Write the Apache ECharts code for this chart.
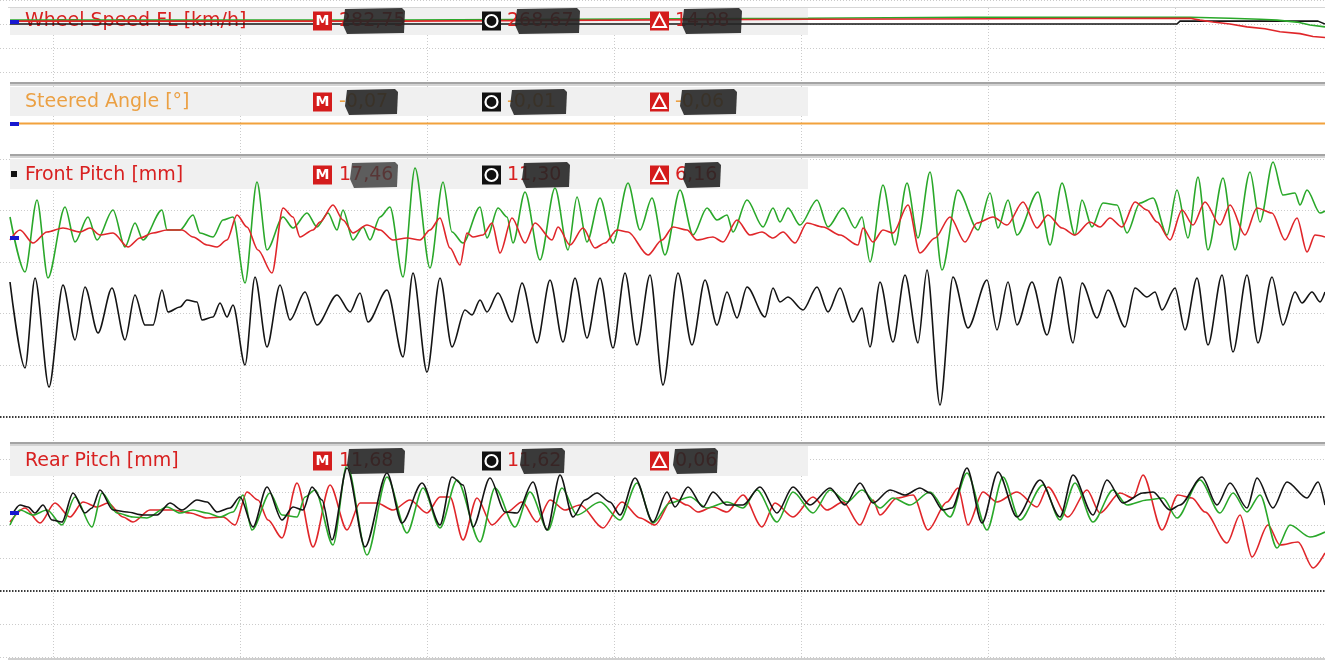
<!DOCTYPE html>
<html>
<head>
<meta charset="utf-8">
<script src="https://cdn.jsdelivr.net/npm/echarts@6.0.0/dist/echarts.min.js"></script>
<style>
  html, body { margin: 0; padding: 0; background: #ffffff; }
  #chart { width: 1325px; height: 662px; }
</style>
</head>
<body>
<div id="chart"></div>
<script>
// ---- channel data: [time s, value] ----
const wheelSpeedGreen = [[0.05,279],[2.0,279],[4.04,281],[4.84,282],[5.95,282],[6.15,281],[6.3,280],[6.385,279],[6.485,277],[6.55,274],[6.625,272]];
const wheelSpeedRed   = [[0.05,278],[2.0,278],[4.04,280],[5.95,281],[6.0,279],[6.065,277],[6.15,275],[6.235,272],[6.325,270],[6.4,267],[6.5,265],[6.565,262],[6.625,261]];
const wheelSpeedBlack = [[0.05,275],[5.885,275],[5.9,278],[6.59,278],[6.625,275]];

const steeredAngle = [[0.05,-0.07],[1.5,-0.07],[3.0,-0.07],[4.5,-0.07],[6.625,-0.07]];

const frontPitchGreen = [[0.05,4.37],[0.125,-0.97],[0.185,6.02],[0.24,-1.55],[0.325,5.34],[0.375,1.94],[0.44,4.37],[0.485,2.14],[0.565,5.05],[0.625,1.46],[0.675,3.79],[0.715,2.14],[0.81,5.05],[0.835,3.11],[0.9,3.11],[0.965,4.56],[1.0,2.82],[1.065,2.43],[1.115,4.08],[1.165,4.37],[1.225,-2.04],[1.285,7.77],[1.335,1.17],[1.415,4.37],[1.465,3.30],[1.535,4.76],[1.585,3.40],[1.64,4.76],[1.685,3.11],[1.715,5.05],[1.765,2.14],[1.815,3.40],[1.85,2.14],[1.9,4.37],[1.95,5.34],[2.015,-1.46],[2.075,9.13],[2.15,-0.58],[2.215,7.77],[2.26,2.91],[2.315,1.84],[2.4,5.34],[2.435,2.33],[2.49,5.24],[2.535,4.37],[2.565,1.84],[2.625,6.80],[2.7,0.19],[2.775,7.18],[2.84,1.17],[2.885,6.31],[2.935,1.94],[3.0,6.21],[3.065,1.84],[3.14,7.67],[3.2,3.11],[3.26,6.21],[3.325,0.68],[3.4,6.99],[3.465,2.62],[3.535,5.24],[3.585,4.08],[3.635,4.56],[3.665,2.91],[3.735,6.02],[3.815,3.40],[3.865,5.24],[3.9,3.88],[3.94,5.24],[4.0,3.59],[4.085,6.02],[4.14,3.40],[4.215,5.24],[4.275,3.30],[4.31,4.37],[4.35,0.0],[4.415,7.48],[4.475,1.65],[4.535,7.67],[4.59,2.33],[4.65,8.74],[4.71,-0.78],[4.79,6.99],[4.89,3.11],[4.95,6.70],[4.99,3.30],[5.04,6.02],[5.085,2.62],[5.19,6.80],[5.25,1.65],[5.31,7.67],[5.375,2.62],[5.41,6.02],[5.46,3.40],[5.515,5.73],[5.585,5.53],[5.635,2.82],[5.7,5.73],[5.765,6.21],[5.835,2.62],[5.885,6.99],[5.94,2.33],[5.99,8.25],[6.04,1.17],[6.115,8.16],[6.175,1.17],[6.25,8.74],[6.3,3.88],[6.365,9.71],[6.415,6.50],[6.475,6.70],[6.5,5.53],[6.535,6.99],[6.6,4.76],[6.625,4.95]];
const frontPitchRed = [[0.05,2.14],[0.1,3.11],[0.165,1.84],[0.235,2.91],[0.315,3.30],[0.4,2.91],[0.45,3.30],[0.5,2.62],[0.565,2.82],[0.64,1.46],[0.7,2.33],[0.765,2.82],[0.835,3.11],[0.91,3.11],[0.965,2.43],[1.035,1.65],[1.085,1.46],[1.135,2.14],[1.185,4.56],[1.235,3.40],[1.29,1.17],[1.36,-1.07],[1.415,5.24],[1.465,4.37],[1.5,2.43],[1.565,3.11],[1.6,3.88],[1.665,5.53],[1.715,4.08],[1.765,2.82],[1.835,3.59],[1.9,3.11],[1.965,2.14],[2.035,2.33],[2.1,2.14],[2.15,3.11],[2.2,4.27],[2.25,1.36],[2.3,-0.29],[2.335,2.82],[2.365,2.43],[2.415,2.62],[2.46,3.79],[2.5,0.87],[2.56,4.27],[2.625,1.84],[2.675,3.79],[2.76,2.14],[2.79,3.40],[2.85,1.65],[2.915,3.30],[2.975,1.36],[3.025,1.84],[3.085,3.11],[3.14,2.91],[3.24,0.68],[3.31,2.14],[3.365,3.40],[3.435,3.11],[3.485,2.14],[3.565,2.43],[3.615,1.94],[3.685,4.08],[3.75,2.62],[3.81,2.91],[3.865,2.33],[3.915,2.91],[3.975,1.84],[4.035,3.79],[4.115,3.40],[4.2,2.62],[4.29,1.65],[4.315,3.30],[4.365,1.94],[4.415,3.11],[4.465,2.82],[4.54,5.53],[4.6,0.87],[4.675,2.33],[4.75,4.37],[4.825,1.94],[4.885,3.79],[4.965,4.37],[5.035,3.59],[5.115,5.83],[5.185,3.30],[5.24,4.56],[5.31,3.30],[5.375,2.62],[5.45,3.88],[5.5,3.40],[5.55,4.27],[5.61,3.40],[5.675,5.83],[5.735,5.05],[5.785,3.88],[5.85,2.14],[5.91,5.05],[5.965,3.59],[6.025,5.83],[6.1,3.59],[6.15,5.53],[6.225,2.62],[6.285,5.24],[6.36,4.76],[6.425,2.14],[6.485,4.27],[6.535,0.97],[6.575,2.62],[6.625,2.43]];
const frontPitchBlack = [[0.05,-1.94],[0.125,-10.29],[0.175,-1.55],[0.245,-12.14],[0.315,-2.23],[0.375,-7.57],[0.425,-2.43],[0.49,-6.89],[0.56,-2.52],[0.625,-7.57],[0.675,-3.20],[0.725,-6.12],[0.765,-6.12],[0.81,-2.72],[0.84,-4.85],[0.9,-4.37],[0.935,-3.69],[0.985,-3.88],[1.01,-5.63],[1.065,-5.34],[1.1,-3.98],[1.135,-5.34],[1.165,-4.17],[1.225,-10.0],[1.275,-1.46],[1.335,-8.25],[1.4,-2.23],[1.45,-5.63],[1.525,-2.91],[1.585,-6.12],[1.685,-3.20],[1.75,-4.85],[1.8,-3.01],[1.84,-5.83],[1.935,-2.72],[2.015,-9.22],[2.065,-1.07],[2.135,-10.68],[2.2,-1.55],[2.26,-8.25],[2.325,-4.66],[2.36,-5.15],[2.4,-3.69],[2.435,-4.85],[2.49,-3.01],[2.56,-5.83],[2.61,-2.04],[2.685,-7.86],[2.75,-1.75],[2.815,-7.77],[2.875,-1.55],[2.935,-7.38],[3.0,-1.55],[3.065,-8.35],[3.125,-1.07],[3.185,-8.06],[3.25,-1.26],[3.315,-11.94],[3.39,-1.07],[3.46,-8.06],[3.525,-1.75],[3.585,-6.12],[3.635,-2.91],[3.685,-5.44],[3.735,-2.43],[3.825,-5.34],[3.865,-2.52],[3.9,-3.88],[3.94,-3.40],[4.015,-4.66],[4.085,-2.43],[4.14,-4.85],[4.2,-2.52],[4.265,-5.83],[4.31,-4.47],[4.35,-8.25],[4.4,-1.94],[4.465,-7.77],[4.525,-1.26],[4.59,-7.86],[4.635,-0.78],[4.7,-13.88],[4.765,-1.46],[4.84,-6.41],[4.935,-1.75],[4.985,-6.60],[5.04,-1.94],[5.085,-6.12],[5.16,-1.94],[5.235,-7.09],[5.3,-1.46],[5.365,-7.86],[5.41,-2.04],[5.485,-5.44],[5.54,-2.72],[5.625,-6.31],[5.675,-2.52],[5.735,-3.40],[5.775,-2.91],[5.81,-4.66],[5.875,-2.52],[5.925,-6.60],[5.985,-1.55],[6.04,-8.06],[6.11,-1.26],[6.165,-8.74],[6.235,-1.26],[6.29,-7.86],[6.36,-1.46],[6.415,-6.12],[6.475,-2.91],[6.51,-3.98],[6.56,-2.91],[6.6,-3.88],[6.625,-2.91]];

const rearPitchGreen = [[0.05,0.0],[0.1,2.27],[0.165,1.52],[0.235,2.27],[0.31,0.0],[0.375,4.24],[0.46,-0.30],[0.51,4.85],[0.585,1.82],[0.665,1.21],[0.735,1.06],[0.835,2.73],[0.9,1.82],[0.965,2.27],[1.035,1.82],[1.1,1.21],[1.165,1.97],[1.215,4.55],[1.26,-0.76],[1.35,4.85],[1.41,1.52],[1.485,1.21],[1.525,4.24],[1.575,5.30],[1.665,-3.03],[1.735,9.09],[1.835,-4.55],[1.935,7.27],[2.035,-1.21],[2.115,5.61],[2.2,-0.45],[2.285,6.82],[2.4,-2.58],[2.475,5.61],[2.575,-0.30],[2.65,5.0],[2.74,-0.76],[2.81,5.61],[2.885,1.52],[3.0,3.48],[3.1,0.76],[3.185,6.36],[3.265,0.30],[3.35,3.33],[3.45,4.24],[3.535,2.58],[3.635,3.48],[3.715,2.58],[3.785,5.30],[3.885,0.45],[3.965,5.0],[4.065,1.82],[4.15,5.30],[4.235,3.48],[4.31,5.30],[4.4,2.58],[4.465,4.09],[4.55,3.03],[4.65,5.0],[4.75,1.21],[4.835,7.88],[4.935,-0.76],[5.015,7.27],[5.1,0.76],[5.215,6.06],[5.3,0.76],[5.375,6.36],[5.465,0.45],[5.565,5.30],[5.635,3.03],[5.735,3.79],[5.815,4.09],[5.885,1.06],[6.0,6.82],[6.1,1.82],[6.165,4.85],[6.235,1.97],[6.3,4.55],[6.385,-3.48],[6.45,0.0],[6.55,-1.82],[6.625,-1.06]];
const rearPitchRed = [[0.05,0.45],[0.125,2.58],[0.2,0.30],[0.275,3.33],[0.35,1.21],[0.415,3.48],[0.485,2.73],[0.54,3.33],[0.615,1.21],[0.665,0.45],[0.75,2.27],[0.865,2.27],[0.95,1.82],[1.035,1.06],[1.115,1.21],[1.175,0.0],[1.235,5.0],[1.29,3.79],[1.34,0.76],[1.41,-1.97],[1.485,6.36],[1.565,-3.33],[1.65,6.06],[1.735,-0.76],[1.8,3.33],[1.885,3.33],[1.965,2.27],[2.05,3.79],[2.135,1.82],[2.2,4.24],[2.25,4.24],[2.315,-2.27],[2.385,4.09],[2.46,0.0],[2.535,1.97],[2.61,3.48],[2.685,0.45],[2.75,3.79],[2.825,2.27],[2.9,3.03],[3.015,-0.45],[3.11,3.48],[3.2,1.06],[3.275,0.0],[3.365,4.09],[3.435,3.03],[3.49,1.97],[3.565,2.73],[3.635,1.97],[3.715,4.55],[3.81,-0.30],[3.875,3.33],[3.965,1.21],[4.065,4.24],[4.135,2.27],[4.215,3.48],[4.3,0.0],[4.365,3.79],[4.4,1.52],[4.485,4.09],[4.565,4.55],[4.64,-0.76],[4.735,3.48],[4.79,5.61],[4.84,0.0],[4.915,5.0],[4.985,3.48],[5.085,5.0],[5.185,2.73],[5.24,5.76],[5.34,1.21],[5.435,5.30],[5.5,1.82],[5.6,4.85],[5.665,4.09],[5.715,7.58],[5.81,-0.76],[5.89,4.55],[5.96,4.09],[6.025,1.97],[6.135,-2.73],[6.2,1.52],[6.26,-4.85],[6.34,0.0],[6.4,-3.03],[6.49,-2.58],[6.565,-6.52],[6.625,-4.24]];
const rearPitchBlack = [[0.06,1.52],[0.1,3.03],[0.14,2.73],[0.175,1.82],[0.215,3.03],[0.26,0.76],[0.31,0.45],[0.365,4.85],[0.425,1.82],[0.46,2.58],[0.5,5.30],[0.565,2.27],[0.635,1.97],[0.715,1.52],[0.785,1.52],[0.85,3.33],[0.91,2.27],[0.985,3.79],[1.035,3.48],[1.085,1.97],[1.15,2.58],[1.2,4.24],[1.265,-0.30],[1.335,5.76],[1.41,0.76],[1.465,2.73],[1.515,2.27],[1.56,5.76],[1.61,3.79],[1.66,-2.27],[1.735,8.64],[1.825,-3.33],[1.935,7.88],[2.01,0.30],[2.11,6.36],[2.2,0.0],[2.26,7.27],[2.315,6.06],[2.365,-0.30],[2.45,7.12],[2.525,1.97],[2.585,1.82],[2.665,6.52],[2.735,-0.76],[2.8,7.58],[2.865,1.21],[2.925,3.79],[2.985,4.85],[3.05,3.48],[3.1,1.52],[3.175,7.12],[3.265,0.45],[3.335,5.0],[3.375,2.73],[3.44,5.76],[3.515,2.73],[3.565,5.0],[3.635,3.03],[3.715,3.03],[3.8,5.76],[3.885,1.82],[3.965,5.76],[4.05,3.03],[4.15,5.61],[4.225,3.03],[4.3,6.36],[4.365,3.33],[4.45,5.30],[4.525,4.55],[4.6,5.61],[4.65,4.85],[4.715,2.27],[4.76,2.58],[4.835,8.64],[4.91,0.30],[4.99,8.03],[5.085,1.21],[5.2,6.82],[5.3,1.21],[5.365,7.58],[5.465,1.52],[5.535,6.82],[5.615,3.33],[5.715,4.85],[5.765,5.0],[5.85,2.27],[5.9,3.03],[6.01,7.27],[6.085,3.03],[6.15,6.36],[6.235,2.58],[6.285,7.12],[6.365,2.58],[6.435,6.52],[6.535,4.09],[6.59,6.52],[6.625,3.03]];

// ---- header readouts (cursor M, cursor O, difference) ----
const channelNames = ['Wheel Speed FL [km/h]', 'Steered Angle [°]', 'Front Pitch [mm]', 'Rear Pitch [mm]'];
const readoutM     = ['282,75', '-0,07', '17,46', '11,68'];
const readoutO     = ['268,67', '-0,01', '11,30', '11,62'];
const readoutDelta = ['14,08', '-0,06', '6,16', '0,06'];

// ---- layout & style ----
const FONT = '19px "DejaVu Sans", Verdana, sans-serif';
const RED = '#e0262a', GREEN = '#2aa82a', BLACK = '#141414', ORANGE = '#f2a23c', BLUE = '#1818d0';
const labelColors = ['#d82020', '#eba043', '#d82020', '#d82020'];
const headerBands = [ {top: 8, h: 27}, {top: 87, h: 29}, {top: 159, h: 30}, {top: 446, h: 30} ];
const headerMid = [21, 102, 175, 461];
const boxX = {M: 313, O: 482, D: 650};
const valueX = {M: 339, O: 507, D: 675};
const masks = [
  [[343, 405], [515, 580], [682, 742]],
  [[345, 398], [510, 567], [680, 737]],
  [[350, 398], [522, 570], [683, 721]],
  [[347, 405], [520, 565], [673, 718]]
];
const axisMarks = [ {y: 20}, {y: 122}, {y: 236}, {y: 511} ];
const dividers = [82, 154, 442];

const grid = { color: '#cbcbcb', type: [1, 2], width: 1 };

const graphics = [];
// outer frame lines
graphics.push({ type: 'rect', shape: {x: 8, y: 7, width: 1317, height: 1}, style: {fill: '#d6d6d6'}, z: 1 });
graphics.push({ type: 'rect', shape: {x: 8, y: 658, width: 1317, height: 2}, style: {fill: '#cfcfcf'}, z: 1 });
dividers.forEach(function (y) {
  graphics.push({ type: 'rect', shape: {x: 10, y: y, width: 1315, height: 2}, style: {fill: '#a4a4a4'}, z: 1 });
  graphics.push({ type: 'rect', shape: {x: 10, y: y + 2, width: 1315, height: 2}, style: {fill: '#d4d4d4'}, z: 1 });
});

headerBands.forEach(function (b, i) {
  const cy = headerMid[i];
  graphics.push({ type: 'rect', shape: {x: 10, y: b.top, width: 798, height: b.h}, style: {fill: '#f0f0f0'}, z: 1 });
  graphics.push({ type: 'text', x: 25, y: cy, style: {text: channelNames[i], fill: labelColors[i], font: FONT, align: 'left', verticalAlign: 'middle', textAlign: 'left', textVerticalAlign: 'middle'}, z: 1 });
  // readout values
  [['M', readoutM], ['O', readoutO], ['D', readoutDelta]].forEach(function (p) {
    graphics.push({ type: 'text', x: valueX[p[0]], y: cy, style: {text: p[1][i], fill: labelColors[i], font: FONT, align: 'left', verticalAlign: 'middle', textAlign: 'left', textVerticalAlign: 'middle'}, z: 3 });
  });
  // redaction patches
  masks[i].forEach(function (m, k) {
    const light = (i === 2 && k === 0);
    graphics.push({ type: 'polygon', shape: {points: [[m[0] + 2, cy - 12], [m[1] - 3, cy - 13], [m[1], cy - 10], [m[1] - 1, cy + 12], [m[0] + 4, cy + 13], [m[0], cy + 4]]},
      style: {fill: light ? 'rgba(60,60,60,0.82)' : 'rgba(38,38,38,0.9)'}, z: 4 });
  });
  // cursor icons
  const s = 19, top = cy - 9.5;
  graphics.push({ type: 'rect', shape: {x: boxX.M, y: top, width: s, height: s}, style: {fill: '#d41c1c'}, z: 4 });
  graphics.push({ type: 'text', x: boxX.M + s / 2, y: cy + 0.5, style: {text: 'M', fill: '#ffffff', font: 'bold 14px "DejaVu Sans", sans-serif', align: 'center', verticalAlign: 'middle', textAlign: 'center', textVerticalAlign: 'middle'}, z: 5 });
  graphics.push({ type: 'rect', shape: {x: boxX.O, y: top, width: s, height: s}, style: {fill: '#111111'}, z: 4 });
  graphics.push({ type: 'circle', shape: {cx: boxX.O + s / 2, cy: cy, r: 6}, style: {fill: 'none', stroke: '#ffffff', lineWidth: 2.2}, z: 5 });
  graphics.push({ type: 'rect', shape: {x: boxX.D, y: top, width: s, height: s}, style: {fill: '#d41c1c'}, z: 4 });
  graphics.push({ type: 'polygon', shape: {points: [[boxX.D + s / 2, cy - 6.5], [boxX.D + s / 2 + 6.5, cy + 6], [boxX.D + s / 2 - 6.5, cy + 6]]}, style: {fill: 'none', stroke: '#ffffff', lineWidth: 2}, z: 5 });
});

// channel origin markers
axisMarks.forEach(function (a) {
  graphics.push({ type: 'rect', shape: {x: 10, y: a.y, width: 9, height: 4}, style: {fill: BLUE}, z: 5 });
});
graphics.push({ type: 'rect', shape: {x: 11, y: 171, width: 6, height: 6}, style: {fill: '#111111'}, z: 5 });

function hiddenX(i) {
  return { gridIndex: i, type: 'value', min: 0, max: 6.625, show: false };
}
function splitY(i, min, max, interval) {
  return { gridIndex: i, type: 'value', min: min, max: max, interval: interval,
    axisLine: {show: false}, axisTick: {show: false}, axisLabel: {show: false},
    splitLine: {show: true, lineStyle: grid} };
}
function trace(data, color, idx, extra) {
  return Object.assign({
    type: 'line', data: data, xAxisIndex: idx, yAxisIndex: idx,
    symbol: 'none', showSymbol: false, silent: true, animation: false,
    lineStyle: {color: color, width: 1.6}, itemStyle: {color: color}, z: 2
  }, extra || {});
}
function wave(data, color, idx, extra) {
  return trace(data, color, idx, Object.assign({smooth: 0.3, smoothMonotone: 'x'}, extra || {}));
}
function baseline(value) {
  return { silent: true, symbol: ['none', 'none'], label: {show: false}, animation: false,
    lineStyle: {color: '#3a3a3a', width: 2, type: [1.5, 1.5]}, data: [{yAxis: value}] };
}

const option = {
  backgroundColor: '#ffffff',
  animation: false,
  grid: [
    // time grid: one division per second, 187 px wide
    {left: 53, top: 8, width: 1272, height: 652},
    {left: 0, top: -3, width: 1325, height: 75},
    {left: 0, top: 86, width: 1325, height: 70},
    {left: 0, top: 159, width: 1325, height: 257.5},
    {left: 0, top: 459, width: 1325, height: 198}
  ],
  xAxis: [
    { gridIndex: 0, type: 'value', min: 0, max: 6.802, interval: 1,
      axisLine: {show: false}, axisTick: {show: false}, axisLabel: {show: false},
      splitLine: {show: true, lineStyle: grid} },
    hiddenX(1), hiddenX(2), hiddenX(3), hiddenX(4)
  ],
  yAxis: [
    { gridIndex: 0, type: 'value', min: 0, max: 1, show: false },
    splitY(1, 225, 300, 25),
    { gridIndex: 2, type: 'value', min: -1, max: 1, show: false },
    splitY(3, -15, 10, 5),
    splitY(4, -20, 10, 5)
  ],
  graphic: graphics,
  series: [
    trace(wheelSpeedBlack, BLACK, 1),
    trace(wheelSpeedGreen, GREEN, 1),
    trace(wheelSpeedRed, RED, 1),
    trace(steeredAngle, ORANGE, 2, {lineStyle: {color: ORANGE, width: 2}}),
    wave(frontPitchGreen, GREEN, 3),
    wave(frontPitchRed, RED, 3),
    wave(frontPitchBlack, BLACK, 3, {markLine: baseline(-15)}),
    wave(rearPitchRed, RED, 4),
    wave(rearPitchGreen, GREEN, 4),
    wave(rearPitchBlack, BLACK, 4, {markLine: baseline(-10)})
  ]
};

const chart = echarts.init(document.getElementById('chart'), null, {renderer: 'canvas'});
chart.setOption(option);
</script>
</body>
</html>
